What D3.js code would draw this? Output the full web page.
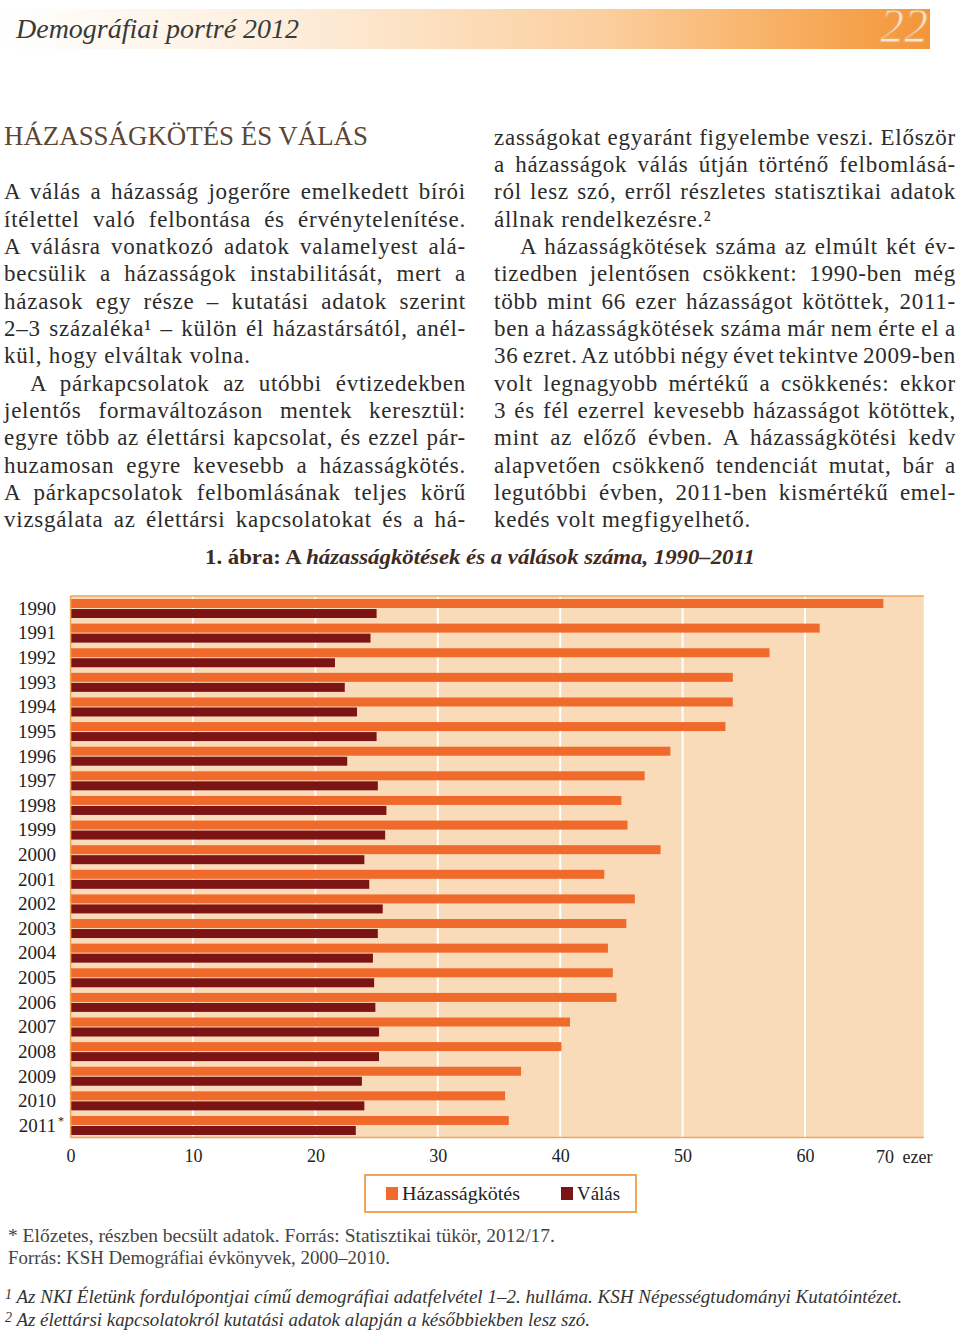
<!DOCTYPE html>
<html><head><meta charset="utf-8">
<script src="https://cdn.jsdelivr.net/npm/d3@7"></script>
<style>
body{margin:0;background:#fff;}
svg{display:block;}
</style></head>
<body>
<svg id="page" width="960" height="1335"></svg>
<script>
// ---------- data ----------
const years = ["1990","1991","1992","1993","1994","1995","1996","1997","1998","1999","2000","2001","2002","2003","2004","2005","2006","2007","2008","2009","2010","2011"];
const marriages = [66.4,61.2,57.1,54.1,54.1,53.5,49.0,46.9,45.0,45.5,48.2,43.6,46.1,45.4,43.9,44.3,44.6,40.8,40.1,36.8,35.5,35.8];
const divorces  = [25.0,24.5,21.6,22.4,23.4,25.0,22.6,25.1,25.8,25.7,24.0,24.4,25.5,25.1,24.7,24.8,24.9,25.2,25.2,23.8,24.0,23.3];
const xTicks = [0,10,20,30,40,50,60,70];
const seriesNames = ["Házasságkötés","Válás"];

const col1 = [
 ["A válás a házasság jogerőre emelkedett bírói","j"],
 ["ítélettel való felbontása és érvénytelenítése.","j"],
 ["A válásra vonatkozó adatok valamelyest alá-","j"],
 ["becsülik a házasságok instabilitását, mert a","j"],
 ["házasok egy része – kutatási adatok szerint","j"],
 ["2–3 százaléka¹ – külön él házastársától, anél-","j"],
 ["kül, hogy elváltak volna.","l"],
 ["A párkapcsolatok az utóbbi évtizedekben","i"],
 ["jelentős formaváltozáson mentek keresztül:","j"],
 ["egyre több az élettársi kapcsolat, és ezzel pár-","j"],
 ["huzamosan egyre kevesebb a házasságkötés.","j"],
 ["A párkapcsolatok felbomlásának teljes körű","j"],
 ["vizsgálata az élettársi kapcsolatokat és a há-","j"]
];
const col2 = [
 ["zasságokat egyaránt figyelembe veszi. Először","j"],
 ["a házasságok válás útján történő felbomlásá-","j"],
 ["ról lesz szó, erről részletes statisztikai adatok","j"],
 ["állnak rendelkezésre.²","l"],
 ["A házasságkötések száma az elmúlt két év-","i"],
 ["tizedben jelentősen csökkent: 1990-ben még","j"],
 ["több mint 66 ezer házasságot kötöttek, 2011-","j"],
 ["ben a házasságkötések száma már nem érte el a","j"],
 ["36 ezret. Az utóbbi négy évet tekintve 2009-ben","j"],
 ["volt legnagyobb mértékű a csökkenés: ekkor","j"],
 ["3 és fél ezerrel kevesebb házasságot kötöttek,","j"],
 ["mint az előző évben. A házasságkötési kedv","j"],
 ["alapvetően csökkenő tendenciát mutat, bár a","j"],
 ["legutóbbi évben, 2011-ben kismértékű emel-","j"],
 ["kedés volt megfigyelhető.","l"]
];

// ---------- page ----------
const svg = d3.select("#page");
const serif = "'Liberation Serif', 'Times New Roman', serif";

// header gradient
const defs = svg.append("defs");
const grad = defs.append("linearGradient").attr("id","hdr").attr("x1","0").attr("x2","1");
grad.append("stop").attr("offset","0").attr("stop-color","#ffffff");
grad.append("stop").attr("offset","0.3").attr("stop-color","#fdeedd");
grad.append("stop").attr("offset","0.65").attr("stop-color","#fbcf9e");
grad.append("stop").attr("offset","0.9").attr("stop-color","#f6a651");
grad.append("stop").attr("offset","1").attr("stop-color","#f3953a");
svg.append("rect").attr("x",0).attr("y",9).attr("width",930).attr("height",40).attr("fill","url(#hdr)");
svg.append("text").attr("x",16).attr("y",38).attr("font-family",serif).attr("font-style","italic")
  .attr("font-size",28).attr("fill","#3a3a3a").text("Demográfiai portré 2012");
svg.append("text").attr("x",928).attr("y",42).attr("text-anchor","end").attr("font-family",serif)
  .attr("font-style","italic").attr("font-size",48).attr("fill","#fbe6cf").attr("stroke","#f0a860")
  .attr("stroke-width",1.2).text("22");

// section title
svg.append("text").attr("x",4).attr("y",145).attr("font-family",serif).attr("font-size",28)
  .attr("fill","#5b4636").attr("textLength",364).attr("lengthAdjust","spacingAndGlyphs")
  .text("HÁZASSÁGKÖTÉS ÉS VÁLÁS");

// justified text lines
function drawColumn(lines, x0, width, y0, pitch){
  lines.forEach((ln,i)=>{
    const indent = ln[1]==="i" ? 26 : 0;
    const t = svg.append("text").attr("x",x0+indent).attr("y",y0+i*pitch)
      .attr("font-family",serif).attr("font-size",23).attr("fill","#2b2b2b")
      .style("letter-spacing","0.75px").text(ln[0]);
    if(ln[1]!=="l"){
      const nat = t.node().getComputedTextLength();
      const spaces = (ln[0].match(/ /g)||[]).length;
      if(spaces>0){
        const ws = (width-indent-nat)/spaces;
        t.style("word-spacing", ws+"px");
      }
    }
  });
}
drawColumn(col1, 4, 462, 199.2, 27.35);
drawColumn(col2, 494, 462, 144.5, 27.35);

// chart title
const ct = svg.append("text").attr("x",205).attr("y",564)
  .attr("font-family",serif).attr("font-size",21).attr("font-weight","bold").attr("fill","#3e2a1e")
  .attr("textLength",550).attr("lengthAdjust","spacingAndGlyphs");
ct.append("tspan").text("1. ábra: A ");
ct.append("tspan").attr("font-style","italic").text("házasságkötések és a válások száma, 1990–2011");

// ---------- chart ----------
const x = d3.scaleLinear().domain([0,70]).range([70.6,927.4]);
const y = d3.scaleBand().domain(years).range([596,1137.6]).paddingInner(0).paddingOuter(0);
const plotTop = 596, plotBot = 1137.6;
const g = svg.append("g");

g.append("rect").attr("x",x(0)).attr("y",plotTop).attr("width",x(69.7)-x(0)).attr("height",plotBot-plotTop)
  .attr("fill","#f9dbb9");
// gridlines
g.selectAll("line.grid").data(xTicks.filter(d=>d>0 && d<70)).join("line").attr("class","grid")
  .attr("x1",d=>x(d)).attr("x2",d=>x(d)).attr("y1",plotTop).attr("y2",plotBot)
  .attr("stroke","#ffffff").attr("stroke-width",2);
// bars
const rowData = years.map((yr,i)=>({yr, m:marriages[i], d:divorces[i]}));
g.selectAll("rect.mar").data(rowData).join("rect").attr("class","mar")
  .attr("x",x(0)).attr("y",d=>y(d.yr)+3).attr("height",9).attr("width",d=>x(d.m)-x(0))
  .attr("fill","#f06a2c");
g.selectAll("rect.div").data(rowData).join("rect").attr("class","div")
  .attr("x",x(0)).attr("y",d=>y(d.yr)+13).attr("height",9).attr("width",d=>x(d.d)-x(0))
  .attr("fill","#7c1416");
// plot border
g.append("line").attr("x1",x(0)).attr("x2",x(69.7)).attr("y1",plotTop).attr("y2",plotTop).attr("stroke","#f2a55a").attr("stroke-width",1.5);
g.append("line").attr("x1",x(0)).attr("x2",x(69.7)).attr("y1",plotBot).attr("y2",plotBot).attr("stroke","#f2a55a").attr("stroke-width",1.5);
g.append("line").attr("x1",x(0)).attr("x2",x(0)).attr("y1",plotTop).attr("y2",plotBot).attr("stroke","#f2a55a").attr("stroke-width",1.5);

// y labels
g.selectAll("text.yl").data(years).join("text").attr("class","yl")
  .attr("x",56).attr("y",d=>y(d)+y.bandwidth()/2+6.5).attr("text-anchor","end")
  .attr("font-family",serif).attr("font-size",19).attr("fill","#222").text(d=>d);
svg.append("text").attr("x",58).attr("y",y("2011")+y.bandwidth()/2-0.5).attr("font-family",serif)
  .attr("font-size",12).attr("fill","#222").text("*");

// x axis
const xAxis = d3.axisBottom(x).tickValues(xTicks).tickSize(0).tickPadding(0)
  .tickFormat(d=> d===70 ? "" : d);
const ax = svg.append("g").attr("transform","translate(0,1149)").call(xAxis);
ax.select(".domain").remove();
ax.selectAll("text").attr("font-family",serif).attr("font-size",18).attr("fill","#222");
svg.append("text").attr("x",x(70)+5).attr("y",1163).attr("text-anchor","end").attr("font-family",serif)
  .attr("font-size",18).attr("fill","#222").attr("word-spacing","4px").text("70 ezer");

// legend
const lg = svg.append("g");
lg.append("rect").attr("x",365).attr("y",1175).attr("width",271).attr("height",37)
  .attr("fill","#fff").attr("stroke","#f2a55a").attr("stroke-width",2);
const legColors = ["#f06a2c","#7c1416"];
const legX = [386,561];
const legW = [118,43];
seriesNames.forEach((s,i)=>{
  lg.append("rect").attr("x",legX[i]).attr("y",1187).attr("width",12).attr("height",13).attr("fill",legColors[i]);
  lg.append("text").attr("x",legX[i]+16).attr("y",1200).attr("font-family",serif).attr("font-size",19)
    .attr("fill","#222").attr("textLength",legW[i]).attr("lengthAdjust","spacingAndGlyphs").text(s);
});

// notes
svg.append("text").attr("x",8).attr("y",1242).attr("font-family",serif).attr("font-size",18).attr("fill","#444")
  .attr("textLength",547).attr("lengthAdjust","spacingAndGlyphs")
  .text("* Előzetes, részben becsült adatok. Forrás: Statisztikai tükör, 2012/17.");
svg.append("text").attr("x",8).attr("y",1264).attr("font-family",serif).attr("font-size",18).attr("fill","#444")
  .attr("textLength",382).attr("lengthAdjust","spacingAndGlyphs")
  .text("Forrás: KSH Demográfiai évkönyvek, 2000–2010.");
const fn1 = svg.append("text").attr("x",5).attr("y",1303).attr("font-family",serif).attr("font-style","italic")
  .attr("font-size",19).attr("fill","#333");
fn1.append("tspan").attr("font-size",14).attr("dy",-4).text("1");
fn1.append("tspan").attr("dy",4).attr("textLength",890).attr("lengthAdjust","spacingAndGlyphs")
  .text(" Az NKI Életünk fordulópontjai című demográfiai adatfelvétel 1–2. hulláma. KSH Népességtudományi Kutatóintézet.");
const fn2 = svg.append("text").attr("x",5).attr("y",1326).attr("font-family",serif).attr("font-style","italic")
  .attr("font-size",19).attr("fill","#333");
fn2.append("tspan").attr("font-size",14).attr("dy",-4).text("2");
fn2.append("tspan").attr("dy",4).attr("textLength",578).attr("lengthAdjust","spacingAndGlyphs")
  .text(" Az élettársi kapcsolatokról kutatási adatok alapján a későbbiekben lesz szó.");
</script>
</body></html>
